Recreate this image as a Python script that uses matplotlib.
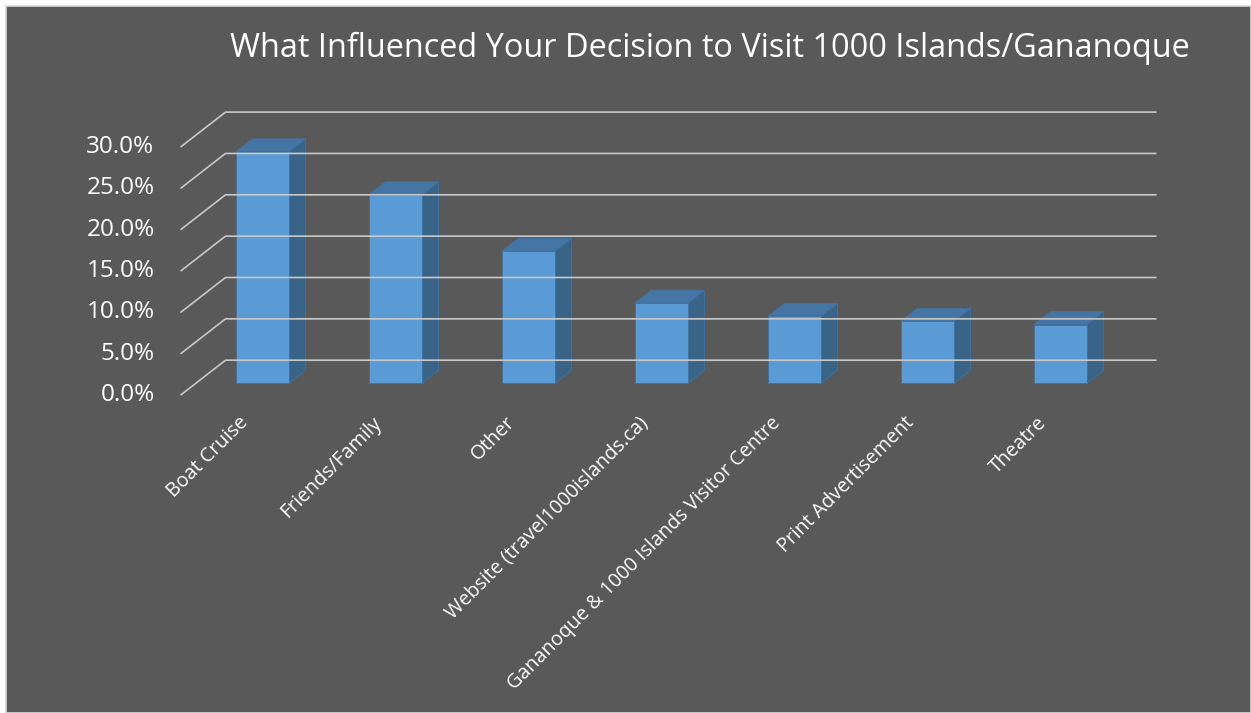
import matplotlib
matplotlib.use("Agg")
import matplotlib.pyplot as plt
from matplotlib.patches import Polygon, Rectangle

# data
categories = ["Boat Cruise", "Friends/Family", "Other",
              "Website (travel1000islands.ca)",
              "Gananoque & 1000 Islands Visitor Centre",
              "Print Advertisement", "Theatre"]
values = [28.0, 22.8, 16.0, 9.7, 8.1, 7.5, 7.1]
ticks = [0, 5, 10, 15, 20, 25, 30]
tick_labels = ["0.0%", "5.0%", "10.0%", "15.0%", "20.0%", "25.0%", "30.0%"]
title = "What Influenced Your Decision to Visit 1000 Islands/Gananoque"

plt.rcParams["font.family"] = ["Open Sans", "DejaVu Sans"]

W, H = 1251, 713
fig = plt.figure(figsize=(W / 100, H / 100), dpi=100, facecolor="white")

# gray chart area with light border (behind the axes)
fig.patches.append(Rectangle((6 / W, 0), 1 - 6 / W, (H - 6) / H, transform=fig.transFigure,
                             facecolor="#595959", edgecolor="#D9D9D9", linewidth=1.2,
                             zorder=-5))

# axes fill the figure; data units: categories along x, percent along y
ax = fig.add_axes([0, 0, 1, 1])
ax.set_axis_off()
X0, Y0, SX, SY = 247, 395.2, 133.0, 8.27
ax.set_xlim(-X0 / SX, (W - X0) / SX)
ax.set_ylim((Y0 - H) / SY, Y0 / SY)

# oblique depth vector for the full floor depth
DX, DY = 45 / SX, 35 / SY
T0, T1 = 0.34, 0.71       # bar depth range
BW = 0.4                  # bar width
XL, XR = -0.5, len(categories) - 0.5


def proj(x, y, t):
    return x + DX * t, y + DY * t


grid_kw = dict(color="#C8C8C8", linewidth=1.2, solid_capstyle="butt")
for v, lab in zip(ticks, tick_labels):
    xa, ya = proj(XL, v, 0)
    xb, yb = proj(XL, v, 1)
    xc, yc = proj(XR, v, 1)
    ax.plot([xa, xb, xc], [ya, yb, yc], **grid_kw)
    ax.text(xa - 26 / SX, ya, lab, ha="right", va="center", color="white", fontsize=17.5)

front_c, top_c, side_c, edge_c = "#5B9BD5", "#4575A4", "#3A6388", "#41719C"
for i, v in enumerate(values):
    x0, x1 = i - BW / 2, i + BW / 2
    front = [proj(x0, 0, T0), proj(x1, 0, T0), proj(x1, v, T0), proj(x0, v, T0)]
    side = [proj(x1, 0, T0), proj(x1, 0, T1), proj(x1, v, T1), proj(x1, v, T0)]
    top = [proj(x0, v, T0), proj(x1, v, T0), proj(x1, v, T1), proj(x0, v, T1)]
    for pts, c in [(side, side_c), (top, top_c), (front, front_c)]:
        ax.add_patch(Polygon(pts, closed=True, facecolor=c, edgecolor=edge_c, linewidth=0.6))
    lx, ly = proj(i - 0.01, -3.0, 0)
    ax.text(lx, ly, categories[i], rotation=45, rotation_mode="anchor",
            ha="right", va="center", color="white", fontsize=14.2)

ax.text(proj(3, 0, 0)[0] + 0.48, (Y0 - 57) / SY, title, ha="center", va="baseline",
        color="white", fontsize=23.4)

fig.savefig("out.png", dpi=100, facecolor="white")
